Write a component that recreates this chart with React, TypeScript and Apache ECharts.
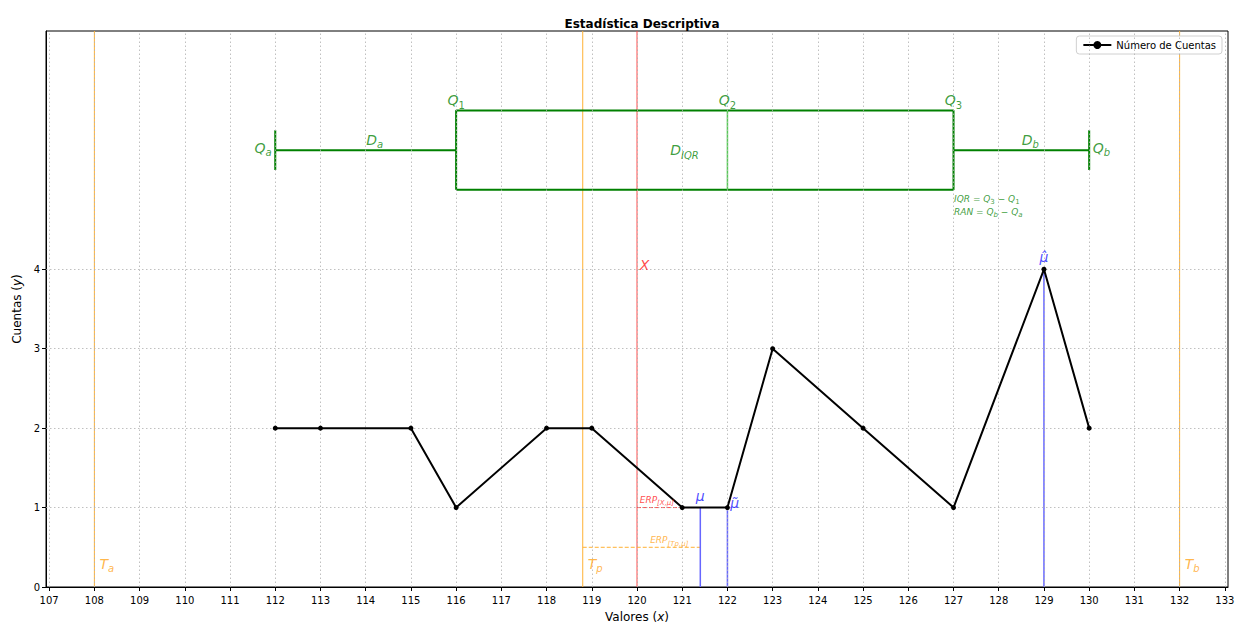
import React, { useEffect, useRef } from "react";
import * as echarts from "echarts";

// ---- data ----
const xValues = [112, 113, 115, 116, 118, 119, 121, 122, 123, 125, 127, 129, 130];
const yCounts = [2, 2, 2, 1, 2, 2, 1, 1, 3, 2, 1, 4, 2];
const xTicks = [107, 108, 109, 110, 111, 112, 113, 114, 115, 116, 117, 118, 119, 120, 121, 122, 123, 124, 125, 126, 127, 128, 129, 130, 131, 132, 133];
const yTicks = [0, 1, 2, 3, 4];
// reference values
const Ta = 108;
const Tb = 132;
const Tp = 118.8;
const Xval = 120;
const mu = 121.4;
const muTilde = 122;
const muHat = 129;
const muHatCount = 4;
const muCount = 1;
// quartiles
const Qa = 112;
const Q1 = 116;
const Q2 = 122;
const Q3 = 127;
const Qb = 130;
const boxLow = 5;
const boxHigh = 6;
const boxMid = 5.5;
const capLow = 5.25;
const capHigh = 5.75;
const erpXY = 1;
const erpTpY = 0.5;
const yTop = 7;

const ORANGE = "#ffb133";
const RED = "#ff4d4d";
const BLUE = "#6666ff";
const GREEN = "#008000";
const TGREEN = "#0a850a";
const TRED = "#ff1a1a";
const TBLUE = "#1a1aff";
const TORANGE = "#ffa41a";
const FONT = "DejaVu Sans";

function seg(name: string, pts: number[][], color: string, width: number, type: string = "solid", z = 2) {
  return {
    name,
    type: "line",
    data: pts,
    symbol: "none",
    showSymbol: false,
    silent: true,
    lineStyle: { color, width, type },
    z,
  };
}

const rich = {
  m: { fontFamily: FONT, fontStyle: "italic", fontSize: 14, lineHeight: 20 },
  s: { fontFamily: FONT, fontSize: 10, verticalAlign: "bottom", lineHeight: 12 },
  si: { fontFamily: FONT, fontStyle: "italic", fontSize: 10, verticalAlign: "bottom", lineHeight: 12 },
  e: { fontFamily: FONT, fontStyle: "italic", fontSize: 9, lineHeight: 14 },
  es: { fontFamily: FONT, fontStyle: "italic", fontSize: 7, verticalAlign: "bottom", lineHeight: 10 },
  t: { fontFamily: FONT, fontStyle: "italic", fontSize: 9, lineHeight: 13 },
  ts: { fontFamily: FONT, fontSize: 7, verticalAlign: "bottom", lineHeight: 9 },
  tsi: { fontFamily: FONT, fontStyle: "italic", fontSize: 7, verticalAlign: "bottom", lineHeight: 9 },
};

type Lab = { x: number; y: number; text: string; color: string; pos: string };

const labels: Lab[] = [
  { x: Ta + 0.1, y: 0.29, text: "{m|T}{si|a}", color: TORANGE, pos: "right" },
  { x: Tp + 0.1, y: 0.29, text: "{m|T}{si|p}", color: TORANGE, pos: "right" },
  { x: Tb + 0.1, y: 0.29, text: "{m|T}{si|b}", color: TORANGE, pos: "right" },
  { x: Xval + 0.05, y: 4.05, text: "{m|X}", color: TRED, pos: "right" },
  { x: mu, y: 1.14, text: "{m|μ}", color: TBLUE, pos: "inside" },
  { x: muTilde + 0.05, y: 1.06, text: "{m|μ̃}", color: TBLUE, pos: "right" },
  { x: muHat, y: 4.15, text: "{m|μ̂}", color: TBLUE, pos: "inside" },
  { x: Xval + 0.05, y: 1.1, text: "{e|ERP}{es|[X,μ]}", color: TRED, pos: "right" },
  { x: Xval + 0.28, y: 0.59, text: "{e|ERP}{es|[T}{es|p}{es|,μ]}", color: TORANGE, pos: "right" },
  { x: Q1, y: 6.13, text: "{m|Q}{s|1}", color: TGREEN, pos: "inside" },
  { x: Q2, y: 6.13, text: "{m|Q}{s|2}", color: TGREEN, pos: "inside" },
  { x: Q3, y: 6.13, text: "{m|Q}{s|3}", color: TGREEN, pos: "inside" },
  { x: Qa - 0.07, y: 5.53, text: "{m|Q}{si|a}", color: TGREEN, pos: "left" },
  { x: Qb + 0.07, y: 5.53, text: "{m|Q}{si|b}", color: TGREEN, pos: "right" },
  { x: (Qa + Q1) / 2, y: 5.63, text: "{m|D}{si|a}", color: TGREEN, pos: "right" },
  { x: (Q3 + Qb) / 2, y: 5.63, text: "{m|D}{si|b}", color: TGREEN, pos: "right" },
  { x: 121.05, y: 5.5, text: "{m|D}{si|IQR}", color: TGREEN, pos: "inside" },
  { x: Q3, y: 4.88, text: "{t|IQR = Q}{ts|3}{t| − Q}{ts|1}", color: TGREEN, pos: "right" },
  { x: Q3, y: 4.72, text: "{t|RAN = Q}{tsi|b}{t| − Q}{tsi|a}", color: TGREEN, pos: "right" },
];

export default function App() {
  const ref = useRef<HTMLDivElement>(null);
  useEffect(() => {
    if (!ref.current) return;
    document.body.style.margin = "0";
    const chart = echarts.init(ref.current, null, { renderer: "svg" });
    const series: any[] = [
      {
        name: "grid",
        type: "line",
        data: [],
        silent: true,
        z: 0,
        markLine: {
          silent: true,
          symbol: "none",
          animation: false,
          label: { show: false },
          lineStyle: { color: "#b0b0b0", type: [1.5, 2.5], width: 0.8 },
          data: [
            ...xTicks.map((v) => ({ xAxis: v })),
            ...yTicks.filter((v) => v > 0).map((v) => ({ yAxis: v })),
          ],
        },
      },
      seg("Ta", [[Ta, 0], [Ta, yTop]], ORANGE, 1),
      seg("Tp", [[Tp, 0], [Tp, yTop]], ORANGE, 1),
      seg("Tb", [[Tb, 0], [Tb, yTop]], ORANGE, 1),
      seg("X", [[Xval, 0], [Xval, yTop]], RED, 1),
      seg("erpX", [[Xval, erpXY], [mu, erpXY]], RED, 1, "dashed"),
      seg("erpTp", [[Tp, erpTpY], [mu, erpTpY]], ORANGE, 1, "dashed"),
      seg("mu", [[mu, 0], [mu, muCount]], BLUE, 1.5),
      seg("muTilde", [[muTilde, 0], [muTilde, muCount]], BLUE, 1.5),
      seg("muHat", [[muHat, 0], [muHat, muHatCount]], BLUE, 1.5),
      seg("box", [[Q1, boxLow], [Q3, boxLow], [Q3, boxHigh], [Q1, boxHigh], [Q1, boxLow]], GREEN, 2),
      seg("median", [[Q2, boxLow], [Q2, boxHigh]], "#55cc55", 1.5),
      seg("wl", [[Qa, boxMid], [Q1, boxMid]], GREEN, 2),
      seg("wr", [[Q3, boxMid], [Qb, boxMid]], GREEN, 2),
      seg("capl", [[Qa, capLow], [Qa, capHigh]], GREEN, 2),
      seg("capr", [[Qb, capLow], [Qb, capHigh]], GREEN, 2),
      {
        name: "Número de Cuentas",
        type: "line",
        data: xValues.map((x, i) => [x, yCounts[i]]),
        symbol: "circle",
        symbolSize: 5,
        showSymbol: true,
        itemStyle: { color: "#000" },
        lineStyle: { color: "#000", width: 2 },
        z: 5,
      },
      {
        name: "labels",
        type: "scatter",
        silent: true,
        symbolSize: 1,
        itemStyle: { color: "rgba(0,0,0,0)" },
        z: 6,
        data: labels.map((l) => ({
          value: [l.x, l.y],
          label: {
            show: true,
            position: l.pos,
            distance: 0,
            formatter: l.text,
            color: l.color,
            rich: Object.fromEntries(
              Object.entries(rich).map(([k, v]) => [k, { ...v, color: l.color }])
            ),
          },
        })),
      },
    ];

    chart.setOption({
      animation: false,
      backgroundColor: "#fff",
      title: {
        text: "Estadística Descriptiva",
        left: 637,
        textAlign: "center",
        top: 13,
        textStyle: { fontFamily: FONT, fontSize: 12, fontWeight: "bold", color: "#000" },
      },
      legend: {
        data: ["Número de Cuentas"],
        right: 14,
        top: 36,
        orient: "vertical",
        itemWidth: 28,
        itemHeight: 10,
        padding: [4, 6, 4, 6],
        borderColor: "#d0d0d0",
        borderWidth: 1,
        borderRadius: 3,
        backgroundColor: "#fff",
        textStyle: { fontFamily: FONT, fontSize: 10, color: "#000" },
      },
      grid: {
        left: 46,
        right: 8,
        top: 31,
        bottom: 38,
        outerBoundsMode: "none",
        containLabel: false,
        show: true,
        borderColor: "#000",
        borderWidth: 1,
        backgroundColor: "transparent",
      },
      xAxis: {
        type: "value",
        min: 106.93,
        max: 133.07,
        name: "Valores ({i|x})",
        nameLocation: "middle",
        nameGap: 24,
        nameTextStyle: {
          fontFamily: FONT,
          fontSize: 12,
          color: "#000",
          rich: { i: { fontFamily: FONT, fontSize: 12, fontStyle: "italic", color: "#000" } },
        },
        axisLine: { show: true, lineStyle: { color: "#000", width: 1 } },
        axisTick: { show: true, customValues: xTicks, length: 4, lineStyle: { color: "#000" } },
        axisLabel: {
          customValues: xTicks,
          fontFamily: FONT,
          fontSize: 10,
          color: "#000",
          margin: 8,
        },
        splitLine: { show: false },
      },
      yAxis: {
        type: "value",
        min: 0,
        max: yTop,
        name: "Cuentas ({i|y})",
        nameLocation: "middle",
        nameGap: 22,
        nameRotate: 90,
        nameTextStyle: {
          fontFamily: FONT,
          fontSize: 12,
          color: "#000",
          rich: { i: { fontFamily: FONT, fontSize: 12, fontStyle: "italic", color: "#000" } },
        },
        axisLine: { show: true, lineStyle: { color: "#000", width: 1 } },
        axisTick: { show: true, customValues: yTicks, length: 4, lineStyle: { color: "#000" } },
        axisLabel: {
          customValues: yTicks,
          fontFamily: FONT,
          fontSize: 10,
          color: "#000",
          margin: 6,
        },
        splitLine: { show: false },
      },
      series,
    });
    return () => {
      chart.dispose();
    };
  }, []);
  return (
    <div
      ref={ref}
      style={{ position: "absolute", left: 0, top: 0, width: 1236, height: 625 }}
    />
  );
}
